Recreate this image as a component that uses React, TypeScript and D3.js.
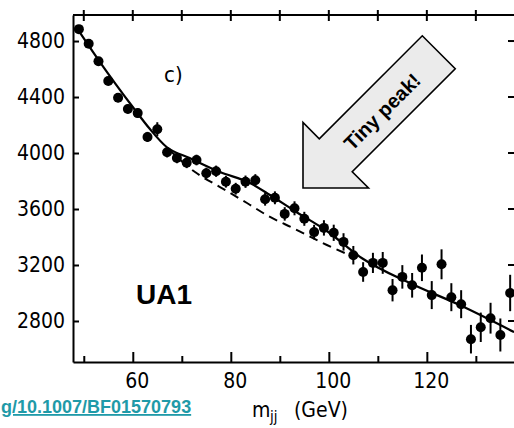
import React, { useEffect, useRef } from "react";
import * as d3 from "d3";

// dijet mass bins (GeV) and events per bin
const massGeV = [
  49, 51, 53, 55, 57, 59, 61, 63, 65, 67, 69, 71, 73, 75, 77, 79, 81, 83, 85, 87, 89, 91, 93,
  95, 97, 99, 101, 103, 105, 107, 109, 111, 113, 115, 117, 119, 121, 123, 125, 127, 129, 131,
  133, 135, 137,
];
const events = [
  4885, 4780, 4655, 4515, 4395, 4315, 4285, 4115, 4170, 4005, 3965, 3930, 3950, 3855, 3870,
  3795, 3745, 3795, 3805, 3670, 3680, 3565, 3605, 3530, 3435, 3465, 3430, 3365, 3270, 3150,
  3215, 3215, 3020, 3115, 3055, 3180, 2985, 3205, 2970, 2920, 2670, 2755, 2820, 2700, 3000,
];
const errors = [
  30, 30, 30, 30, 32, 32, 34, 36, 50, 36, 38, 38, 38, 40, 40, 42, 42, 44, 44, 46, 46, 48, 50,
  50, 52, 55, 58, 62, 66, 70, 72, 78, 80, 84, 88, 95, 100, 107, 100, 100, 102, 105, 110, 118,
  130,
];

// fit: background + peak (solid)
const fitMass = [48.6, 53.3, 60, 63.5, 66.9, 71.6, 77.8, 83.9, 88, 92.7, 99.6, 106.7, 116.5, 126.7, 137.8];
const fitEvents = [4893, 4650, 4329, 4171, 4043, 3964, 3864, 3786, 3700, 3593, 3443, 3250, 3071, 2914, 2721];

// background only (dashed)
const bgMass = [67.5, 72.7, 77.8, 83.3, 88, 92.7, 99.6, 104.7];
const bgEvents = [4021, 3864, 3757, 3643, 3543, 3464, 3343, 3264];

const yTicks = [2800, 3200, 3600, 4000, 4400, 4800];
const xMajorTicks = [60, 80, 100, 120];
const xMinorTicks = [50, 70, 90, 110, 130];
const xTopTicks = [50, 60, 70, 80, 90, 100, 110, 120, 130];

const W = 514;
const H = 428;
const AXIS_FONT = "'DejaVu Sans Condensed', 'DejaVu Sans', sans-serif";
const SANS_BOLD = "'Liberation Sans', Arial, sans-serif";

export default function App() {
  const svgRef = useRef<SVGSVGElement>(null);

  useEffect(() => {
    const svg = d3.select(svgRef.current);
    svg.selectAll("*").remove();

    const margin = { top: 15, bottom: 66, left: 73 };
    const right = 518; // right frame sits just outside the picture

    const x = d3.scaleLinear().domain([47.8, 138.6]).range([margin.left, right]);
    const y = d3.scaleLinear().domain([2507, 4986]).range([H - margin.bottom, margin.top]);
    const bottom = H - margin.bottom;

    svg.append("rect").attr("width", W).attr("height", H).attr("fill", "#fff");

    // left axis
    const gl = svg
      .append("g")
      .attr("transform", `translate(${margin.left},0)`)
      .call(
        d3
          .axisLeft(y)
          .tickValues(yTicks)
          .tickFormat(d3.format("d"))
          .tickSizeInner(-6)
          .tickSizeOuter(0)
          .tickPadding(8)
      );
    gl.selectAll("path, line").attr("stroke", "#000").attr("stroke-width", 2);
    gl.selectAll("text").attr("font-family", AXIS_FONT).attr("font-size", 21).attr("fill", "#000");

    // bottom axis, major + minor ticks
    const gb = svg
      .append("g")
      .attr("transform", `translate(0,${bottom})`)
      .call(
        d3.axisBottom(x).tickValues(xMajorTicks).tickSizeInner(-10).tickSizeOuter(0).tickPadding(11)
      );
    gb.selectAll("path, line").attr("stroke", "#000").attr("stroke-width", 2);
    gb.selectAll("text")
      .attr("font-family", AXIS_FONT)
      .attr("font-size", 21)
      .attr("fill", "#000")
      .attr("dx", 4);

    const gm = svg
      .append("g")
      .attr("transform", `translate(0,${bottom})`)
      .call(d3.axisBottom(x).tickValues(xMinorTicks).tickSizeInner(-6).tickSizeOuter(0).tickFormat(() => ""));
    gm.select(".domain").remove();
    gm.selectAll("line").attr("stroke", "#000").attr("stroke-width", 2);

    // top frame with crossing ticks
    svg
      .append("line")
      .attr("x1", margin.left)
      .attr("x2", right)
      .attr("y1", margin.top)
      .attr("y2", margin.top)
      .attr("stroke", "#000")
      .attr("stroke-width", 2);
    svg
      .append("g")
      .selectAll("line")
      .data(xTopTicks)
      .join("line")
      .attr("x1", (d) => x(d))
      .attr("x2", (d) => x(d))
      .attr("y1", margin.top - 5)
      .attr("y2", margin.top + 6)
      .attr("stroke", "#000")
      .attr("stroke-width", 2);

    // right frame ticks (inward)
    svg
      .append("g")
      .selectAll("line")
      .data(yTicks)
      .join("line")
      .attr("x1", right - 10)
      .attr("x2", right)
      .attr("y1", (d) => y(d))
      .attr("y2", (d) => y(d))
      .attr("stroke", "#000")
      .attr("stroke-width", 2);

    // curves
    const line = d3
      .line<[number, number]>()
      .x((d) => x(d[0]))
      .y((d) => y(d[1]))
      .curve(d3.curveMonotoneX);

    svg
      .append("path")
      .attr("d", line(bgMass.map((m, i) => [m, bgEvents[i]]) as [number, number][]))
      .attr("fill", "none")
      .attr("stroke", "#000")
      .attr("stroke-width", 2)
      .attr("stroke-dasharray", "9,6");

    svg
      .append("path")
      .attr("d", line(fitMass.map((m, i) => [m, fitEvents[i]]) as [number, number][]))
      .attr("fill", "none")
      .attr("stroke", "#000")
      .attr("stroke-width", 2.2);

    // data points with error bars
    const pts = massGeV.map((m, i) => ({ m, v: events[i], e: errors[i] }));
    svg
      .append("g")
      .selectAll("line")
      .data(pts)
      .join("line")
      .attr("x1", (d) => x(d.m))
      .attr("x2", (d) => x(d.m))
      .attr("y1", (d) => y(d.v - d.e))
      .attr("y2", (d) => y(d.v + d.e))
      .attr("stroke", "#000")
      .attr("stroke-width", 2);
    svg
      .append("g")
      .selectAll("circle")
      .data(pts)
      .join("circle")
      .attr("cx", (d) => x(d.m))
      .attr("cy", (d) => y(d.v))
      .attr("r", 5)
      .attr("fill", "#000");

    // labels
    svg
      .append("text")
      .attr("x", 164)
      .attr("y", 82)
      .attr("font-family", AXIS_FONT)
      .attr("font-size", 22)
      .text("c)");

    svg
      .append("text")
      .attr("x", 136)
      .attr("y", 304)
      .attr("font-family", SANS_BOLD)
      .attr("font-weight", "bold")
      .attr("font-size", 28)
      .text("UA1");

    const xl = svg.append("g").attr("font-family", AXIS_FONT).attr("fill", "#000");
    xl.append("text").attr("x", 252).attr("y", 417).attr("font-size", 21).text("m");
    xl.append("text").attr("x", 270).attr("y", 422).attr("font-size", 15).text("jj");
    xl.append("text").attr("x", 294).attr("y", 417).attr("font-size", 21).text("(GeV)");

    // visible tail of the DOI link
    svg
      .append("text")
      .attr("x", 1)
      .attr("y", 413)
      .attr("font-family", SANS_BOLD)
      .attr("font-weight", "bold")
      .attr("font-size", 18)
      .attr("fill", "#1f9aa8")
      .style("text-decoration", "underline")
      .text("g/10.1007/BF01570793");

    // "Tiny peak!" block arrow
    const arrow = svg.append("g").attr("transform", "translate(303,188) rotate(-45)");
    arrow
      .append("path")
      .attr("d", "M0,0 L46.3,-46.3 L46.3,-23.3 L192,-23.3 L192,23.3 L46.3,23.3 L46.3,46.3 Z")
      .attr("fill", "#ebebeb")
      .attr("stroke", "#000")
      .attr("stroke-width", 1.6)
      .attr("stroke-linejoin", "miter");
    arrow
      .append("text")
      .attr("x", 110)
      .attr("y", 2)
      .attr("text-anchor", "middle")
      .attr("dominant-baseline", "central")
      .attr("font-family", SANS_BOLD)
      .attr("font-weight", "bold")
      .attr("font-size", 20)
      .text("Tiny peak!");
  }, []);

  return (
    <svg
      ref={svgRef}
      width={W}
      height={H}
      style={{ position: "fixed", left: 0, top: 0, display: "block", background: "#fff" }}
    />
  );
}
